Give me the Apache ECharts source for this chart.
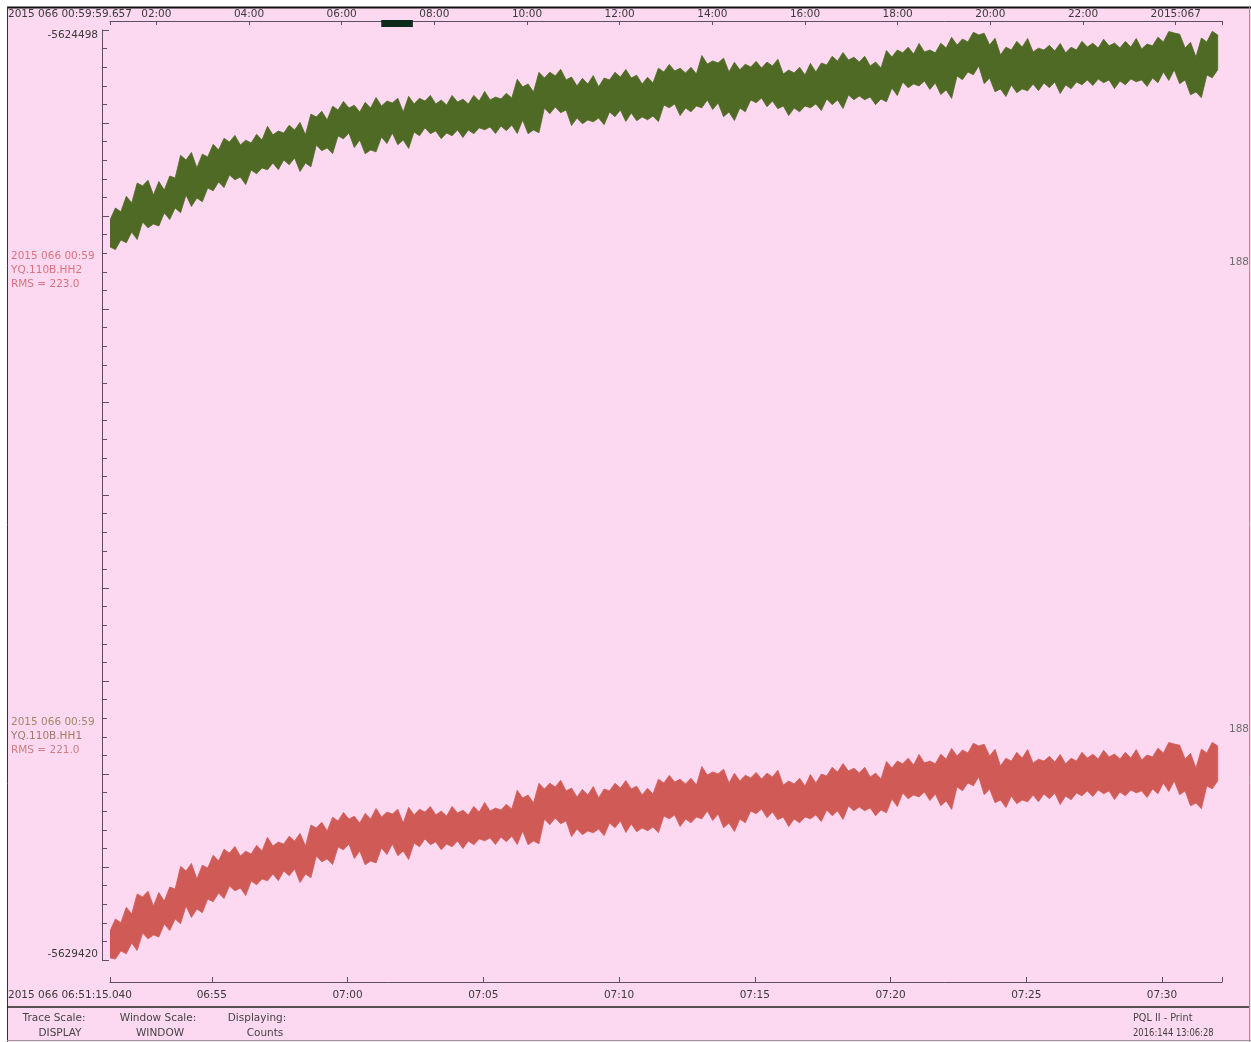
<!DOCTYPE html>
<html>
<head>
<meta charset="utf-8">
<script src="https://cdn.jsdelivr.net/npm/echarts@6/dist/echarts.min.js"></script>
<style>
html,body{margin:0;padding:0;background:#fff;}
#chart{width:1251px;height:1042px;}
</style>
</head>
<body>
<div id="chart"></div>
<script>
// ---- Data (counts) ----
// envelope samples every 12 s starting at 2015 066 06:51:15.040 (minutes of day)
const sampleStartMin = 411.2507;
const sampleStepMin = 0.2;

// YQ.110B.HH2 (green trace): upper / lower envelope in counts
const hh2High = [
-5625503,-5625440,-5625460,-5625378,-5625413,-5625308,-5625323,-5625293,-5625371,-5625300,
-5625345,-5625271,-5625281,-5625161,-5625186,-5625146,-5625228,-5625155,-5625170,-5625103,
-5625133,-5625071,-5625091,-5625056,-5625106,-5625081,-5625096,-5625050,-5625080,-5625008,
-5625053,-5625033,-5625043,-5625002,-5625027,-5624987,-5625053,-5624943,-5624958,-5624928,
-5624974,-5624901,-5624921,-5624876,-5624911,-5624896,-5624932,-5624881,-5624911,-5624855,
-5624900,-5624874,-5624884,-5624859,-5624932,-5624849,-5624889,-5624859,-5624874,-5624844,
-5624889,-5624869,-5624895,-5624844,-5624879,-5624864,-5624889,-5624844,-5624874,-5624823,
-5624868,-5624853,-5624863,-5624833,-5624858,-5624759,-5624799,-5624784,-5624826,-5624722,
-5624752,-5624721,-5624741,-5624706,-5624762,-5624747,-5624794,-5624754,-5624784,-5624739,
-5624799,-5624752,-5624762,-5624722,-5624747,-5624707,-5624752,-5624737,-5624784,-5624748,
-5624778,-5624700,-5624720,-5624680,-5624715,-5624700,-5624725,-5624695,-5624731,-5624633,
-5624678,-5624662,-5624672,-5624647,-5624720,-5624669,-5624709,-5624679,-5624694,-5624664,
-5624699,-5624668,-5624688,-5624653,-5624731,-5624710,-5624725,-5624695,-5624736,-5624675,
-5624720,-5624673,-5624683,-5624637,-5624662,-5624617,-5624657,-5624642,-5624667,-5624637,
-5624688,-5624668,-5624699,-5624606,-5624641,-5624604,-5624619,-5624589,-5624625,-5624569,
-5624614,-5624604,-5624619,-5624568,-5624593,-5624537,-5624577,-5624546,-5624561,-5624510,
-5624524,-5624515,-5624577,-5624542,-5624630,-5624589,-5624604,-5624558,-5624588,-5624543,
-5624614,-5624594,-5624604,-5624579,-5624609,-5624569,-5624619,-5624589,-5624604,-5624558,
-5624588,-5624568,-5624593,-5624547,-5624582,-5624567,-5624593,-5624558,-5624588,-5624543,
-5624598,-5624572,-5624582,-5624536,-5624561,-5624506,-5624514,-5624520,-5624593,-5624563,
-5624641,-5624541,-5624561,-5624505,-5624524];
const hh2Low = [
-5625646,-5625660,-5625609,-5625624,-5625567,-5625607,-5625514,-5625545,-5625525,-5625535,
-5625466,-5625501,-5625440,-5625465,-5625371,-5625432,-5625387,-5625407,-5625334,-5625349,
-5625302,-5625332,-5625265,-5625291,-5625276,-5625316,-5625239,-5625259,-5625228,-5625238,
-5625202,-5625237,-5625186,-5625211,-5625175,-5625247,-5625202,-5625222,-5625106,-5625137,
-5625122,-5625152,-5625059,-5625074,-5625043,-5625120,-5625080,-5625153,-5625133,-5625143,
-5625064,-5625099,-5625043,-5625105,-5625080,-5625125,-5625038,-5625058,-5625016,-5625047,
-5625032,-5625073,-5625043,-5625058,-5625027,-5625067,-5625027,-5625047,-5625016,-5625026,
-5625011,-5625046,-5625006,-5625031,-5625001,-5625046,-5624974,-5625047,-5625027,-5625042,
-5624911,-5624941,-5624905,-5624936,-5624921,-5625004,-5624964,-5624994,-5624974,-5624984,
-5624964,-5624999,-5624932,-5624957,-5624921,-5624982,-5624937,-5624978,-5624958,-5624973,
-5624953,-5624983,-5624895,-5624910,-5624889,-5624951,-5624911,-5624931,-5624900,-5624910,
-5624868,-5624919,-5624884,-5624957,-5624932,-5624977,-5624911,-5624931,-5624868,-5624883,
-5624858,-5624904,-5624874,-5624915,-5624900,-5624951,-5624911,-5624931,-5624900,-5624910,
-5624889,-5624924,-5624863,-5624893,-5624868,-5624913,-5624842,-5624867,-5624847,-5624867,
-5624852,-5624893,-5624863,-5624878,-5624805,-5624845,-5624773,-5624804,-5624784,-5624794,
-5624768,-5624813,-5624778,-5624840,-5624815,-5624860,-5624741,-5624761,-5624720,-5624735,
-5624688,-5624782,-5624752,-5624825,-5624810,-5624850,-5624789,-5624830,-5624810,-5624820,
-5624784,-5624819,-5624778,-5624803,-5624773,-5624834,-5624789,-5624809,-5624773,-5624788,
-5624762,-5624792,-5624757,-5624777,-5624762,-5624808,-5624768,-5624788,-5624757,-5624772,
-5624762,-5624797,-5624752,-5624777,-5624720,-5624765,-5624709,-5624782,-5624762,-5624841,
-5624826,-5624856,-5624736,-5624751,-5624709];

// YQ.110B.HH1 (red trace): upper / lower envelope in counts
const hh1High = [
-5629266,-5629203,-5629223,-5629141,-5629176,-5629071,-5629086,-5629056,-5629134,-5629063,
-5629108,-5629034,-5629044,-5628924,-5628949,-5628909,-5628991,-5628918,-5628933,-5628866,
-5628896,-5628834,-5628854,-5628819,-5628869,-5628844,-5628859,-5628813,-5628843,-5628771,
-5628816,-5628796,-5628806,-5628765,-5628790,-5628750,-5628816,-5628706,-5628721,-5628691,
-5628737,-5628664,-5628684,-5628639,-5628674,-5628659,-5628695,-5628644,-5628674,-5628618,
-5628663,-5628637,-5628647,-5628622,-5628695,-5628612,-5628652,-5628622,-5628637,-5628607,
-5628652,-5628632,-5628658,-5628607,-5628642,-5628627,-5628652,-5628607,-5628637,-5628586,
-5628631,-5628616,-5628626,-5628596,-5628621,-5628522,-5628562,-5628547,-5628589,-5628485,
-5628515,-5628484,-5628504,-5628469,-5628525,-5628510,-5628557,-5628517,-5628547,-5628502,
-5628562,-5628515,-5628525,-5628485,-5628510,-5628470,-5628515,-5628500,-5628547,-5628511,
-5628541,-5628463,-5628483,-5628443,-5628478,-5628463,-5628488,-5628458,-5628494,-5628396,
-5628441,-5628425,-5628435,-5628410,-5628483,-5628432,-5628472,-5628442,-5628457,-5628427,
-5628462,-5628431,-5628451,-5628416,-5628494,-5628473,-5628488,-5628458,-5628499,-5628438,
-5628483,-5628436,-5628446,-5628400,-5628425,-5628380,-5628420,-5628405,-5628430,-5628400,
-5628451,-5628431,-5628462,-5628369,-5628404,-5628367,-5628382,-5628352,-5628388,-5628332,
-5628377,-5628367,-5628382,-5628331,-5628356,-5628300,-5628340,-5628309,-5628324,-5628273,
-5628287,-5628278,-5628340,-5628305,-5628393,-5628352,-5628367,-5628321,-5628351,-5628306,
-5628377,-5628357,-5628367,-5628342,-5628372,-5628332,-5628382,-5628352,-5628367,-5628321,
-5628351,-5628331,-5628356,-5628310,-5628345,-5628330,-5628356,-5628321,-5628351,-5628306,
-5628361,-5628335,-5628345,-5628299,-5628324,-5628269,-5628277,-5628283,-5628356,-5628326,
-5628404,-5628304,-5628324,-5628268,-5628287];
const hh1Low = [
-5629409,-5629415,-5629372,-5629387,-5629330,-5629370,-5629277,-5629308,-5629288,-5629298,
-5629229,-5629264,-5629203,-5629228,-5629134,-5629195,-5629150,-5629170,-5629097,-5629112,
-5629065,-5629095,-5629028,-5629054,-5629039,-5629079,-5629002,-5629022,-5628991,-5629001,
-5628965,-5629000,-5628949,-5628974,-5628938,-5629010,-5628965,-5628985,-5628869,-5628900,
-5628885,-5628915,-5628822,-5628837,-5628806,-5628883,-5628843,-5628916,-5628896,-5628906,
-5628827,-5628862,-5628806,-5628868,-5628843,-5628888,-5628801,-5628821,-5628779,-5628810,
-5628795,-5628836,-5628806,-5628821,-5628790,-5628830,-5628790,-5628810,-5628779,-5628789,
-5628774,-5628809,-5628769,-5628794,-5628764,-5628809,-5628737,-5628810,-5628790,-5628805,
-5628674,-5628704,-5628668,-5628699,-5628684,-5628767,-5628727,-5628757,-5628737,-5628747,
-5628727,-5628762,-5628695,-5628720,-5628684,-5628745,-5628700,-5628741,-5628721,-5628736,
-5628716,-5628746,-5628658,-5628673,-5628652,-5628714,-5628674,-5628694,-5628663,-5628673,
-5628631,-5628682,-5628647,-5628720,-5628695,-5628740,-5628674,-5628694,-5628631,-5628646,
-5628621,-5628667,-5628637,-5628678,-5628663,-5628714,-5628674,-5628694,-5628663,-5628673,
-5628652,-5628687,-5628626,-5628656,-5628631,-5628676,-5628605,-5628630,-5628610,-5628630,
-5628615,-5628656,-5628626,-5628641,-5628568,-5628608,-5628536,-5628567,-5628547,-5628557,
-5628531,-5628576,-5628541,-5628603,-5628578,-5628623,-5628504,-5628524,-5628483,-5628498,
-5628451,-5628545,-5628515,-5628588,-5628573,-5628613,-5628552,-5628593,-5628573,-5628583,
-5628547,-5628582,-5628541,-5628566,-5628536,-5628597,-5628552,-5628572,-5628536,-5628551,
-5628525,-5628555,-5628520,-5628540,-5628525,-5628571,-5628531,-5628551,-5628520,-5628535,
-5628525,-5628560,-5628515,-5628540,-5628483,-5628528,-5628472,-5628545,-5628525,-5628604,
-5628589,-5628619,-5628499,-5628514,-5628472];

// axes
const yMin = -5629420, yMax = -5624498;
const bottomMin = 411.2507, bottomMax = 452.21;           // minutes of day
const bottomTicks = [415, 420, 425, 430, 435, 440, 445, 450];
const topMin = 0.99990, topMax = 24.99990;                 // hours of day 066
const topTicks = [2, 4, 6, 8, 10, 12, 14, 16, 18, 20, 22, 24];
const topTickLabels = ['02:00','04:00','06:00','08:00','10:00','12:00','14:00','16:00','18:00','20:00','22:00','2015:067'];
const windowHours = [6.8542, 7.5367];

// ---- styles ----
const FONT = '"DejaVu Sans", sans-serif';
const FS = 10.5;
const AXIS = '#5d5063';
const TXT = '#3a3a3a';
const GREEN = '#4e6a24';
const RED = '#d05b56';

function sampleTime(i) { return sampleStartMin + sampleStepMin * i; }
function pad(n) { return (n < 10 ? '0' : '') + n; }
function fmtMin(v) { const h = Math.floor(v / 60); const m = Math.round(v - h * 60); return pad(h) + ':' + pad(m); }

function bandSeries(name, hi, lo, color) {
  return {
    type: 'custom', name: name, xAxisIndex: 0, yAxisIndex: 0, clip: true, silent: true,
    data: [[sampleTime(0), hi[0]]],
    renderItem: function (params, api) {
      const top = [], bottom = [];
      for (let i = 0; i < hi.length; i++) {
        const t = sampleTime(i);
        top.push(api.coord([t, hi[i]]));
        bottom.push(api.coord([t, lo[i]]));
      }
      const pts = top.concat(bottom.reverse());
      return { type: 'polygon', shape: { points: pts },
        style: { fill: color, stroke: color, lineWidth: 0.8, lineJoin: 'miter' } };
    }
  };
}

const yMinorTicks = [], yMajorTicks = [];
for (let k = 0; k <= 50; k++) yMinorTicks.push(yMin + (yMax - yMin) * k / 50);
for (let k = 0; k <= 10; k++) yMajorTicks.push(yMin + (yMax - yMin) * k / 10);

function txt(text, x, y, color, align) {
  return { type: 'text', silent: true, style: { text: text, x: x, y: y, fill: color || TXT,
    font: FS + 'px ' + FONT, textAlign: align || 'left', textVerticalAlign: 'middle' } };
}
function ctxt(text, x, y, color, sx) {
  return { type: 'text', silent: true, x: x, y: y, scaleX: sx,
    style: { text: text, x: 0, y: 0, fill: color, font: FS + 'px ' + FONT, textAlign: 'left', textVerticalAlign: 'middle' } };
}
function line(x1, y1, x2, y2, color, w) {
  return { type: 'line', silent: true, shape: { x1: x1, y1: y1, x2: x2, y2: y2 },
    style: { stroke: color, lineWidth: w || 1 } };
}

const chart = echarts.init(document.getElementById('chart'), null, { renderer: 'canvas' });
chart.setOption({
  animation: false,
  backgroundColor: '#fdd9f1',
  textStyle: { fontFamily: FONT },
  grid: { left: 110, right: 29, top: 30, bottom: 82, containLabel: false },
  xAxis: [
    { type: 'value', position: 'bottom', min: bottomMin, max: bottomMax, offset: 22,
      axisLine: { show: true, lineStyle: { color: AXIS, width: 1 } },
      axisTick: { show: true, inside: true, length: 5, lineStyle: { color: AXIS },
        customValues: [bottomMin].concat(bottomTicks, [bottomMax]) },
      axisLabel: { show: true, customValues: bottomTicks, formatter: fmtMin, margin: 8,
        color: TXT, fontSize: FS, fontFamily: FONT },
      splitLine: { show: false } },
    { type: 'value', position: 'top', min: topMin, max: topMax, offset: 9,
      axisLine: { show: true, lineStyle: { color: AXIS, width: 1 } },
      axisTick: { show: true, inside: true, length: 4, lineStyle: { color: AXIS },
        customValues: [topMin].concat(topTicks, [topMax]) },
      axisLabel: { show: true, customValues: topTicks, margin: 1, color: TXT, fontSize: FS, fontFamily: FONT,
        formatter: function (v) { const i = topTicks.indexOf(Math.round(v)); return i >= 0 ? topTickLabels[i] : ''; } },
      splitLine: { show: false } }
  ],
  yAxis: [
    { type: 'value', position: 'left', min: yMin, max: yMax, offset: 8,
      axisLine: { show: true, lineStyle: { color: AXIS, width: 1 } },
      axisTick: { show: true, inside: true, length: 5, lineStyle: { color: AXIS }, customValues: yMinorTicks },
      axisLabel: { show: true, customValues: [yMin, yMax], margin: 4, color: TXT, fontSize: FS, fontFamily: FONT,
        verticalAlignMaxLabel: 'top', verticalAlignMinLabel: 'bottom',
        formatter: function (v) { return String(Math.round(v)); } },
      splitLine: { show: false } },
    { type: 'value', position: 'left', min: yMin, max: yMax, offset: 8,
      axisLine: { show: false },
      axisTick: { show: true, inside: true, length: 7, lineStyle: { color: AXIS }, customValues: yMajorTicks },
      axisLabel: { show: false },
      splitLine: { show: false } }
  ],
  series: [
    bandSeries('YQ.110B.HH2', hh2High, hh2Low, GREEN),
    bandSeries('YQ.110B.HH1', hh1High, hh1Low, RED),
    { type: 'custom', name: 'window', xAxisIndex: 1, yAxisIndex: 0, clip: false, silent: true,
      data: [[windowHours[0], windowHours[1]]],
      renderItem: function (params, api) {
        const a = api.coord([api.value(0), yMax]);
        const b = api.coord([api.value(1), yMax]);
        return { type: 'rect', shape: { x: a[0], y: params.coordSys.y - 10, width: b[0] - a[0], height: 7 },
          style: { fill: '#0c2a1c' } };
      } }
  ],
  graphic: [
    { type: 'rect', silent: true, shape: { x: 0, y: 0, width: 1251, height: 7 }, style: { fill: '#ffffff' } },
    { type: 'rect', silent: true, shape: { x: 0, y: 0, width: 7, height: 1042 }, style: { fill: '#ffffff' } },
    line(7, 7.5, 1251, 7.5, '#111', 2),
    line(7.5, 7, 7.5, 1042, '#333', 1),
    line(1249.5, 7, 1249.5, 1042, '#9a9a9a', 1),
    line(7, 1040.5, 1251, 1040.5, '#9a9a9a', 1),
    line(7, 1007, 1249, 1007, '#222', 1.5),
    txt('2015 066 00:59:59.657', 8, 14),
    txt('2015 066 06:51:15.040', 8, 995),
    txt('2015 066 00:59', 11, 256, '#d9747e'),
    txt('YQ.110B.HH2', 11, 270, '#d9747e'),
    txt('RMS = 223.0', 11, 284, '#d9747e'),
    txt('2015 066 00:59', 11, 722, '#a0896a'),
    txt('YQ.110B.HH1', 11, 736, '#a27a66'),
    txt('RMS = 221.0', 11, 750, '#cf7f82'),
    txt('188', 1249, 262, '#6e6e6e', 'right'),
    txt('188', 1249, 729, '#6e6e6e', 'right'),
    txt('Trace Scale:', 54, 1018, '#444', 'center'),
    txt('DISPLAY', 60, 1033, '#444', 'center'),
    txt('Window Scale:', 158, 1018, '#444', 'center'),
    txt('WINDOW', 160, 1033, '#444', 'center'),
    txt('Displaying:', 257, 1018, '#444', 'center'),
    txt('Counts', 265, 1033, '#444', 'center'),
    ctxt('PQL II - Print', 1133, 1018, '#444', 0.92),
    ctxt('2016:144 13:06:28', 1133, 1033, '#444', 0.8)
  ]
});
</script>
</body>
</html>
